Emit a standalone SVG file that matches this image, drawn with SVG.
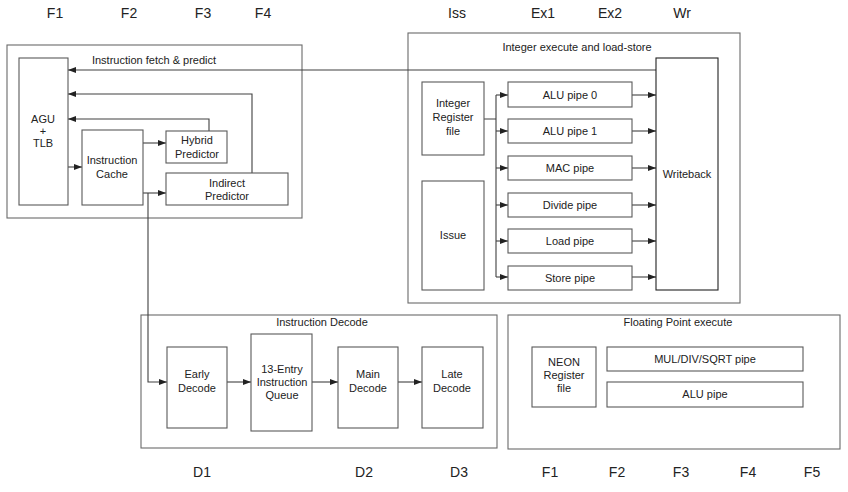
<svg xmlns="http://www.w3.org/2000/svg" width="848" height="492" viewBox="0 0 848 492">
<defs>
<style>
.bg{fill:#ffffff}
.box{fill:#ffffff;stroke:#5a5a5a;stroke-width:1.1}
.grp{fill:none;stroke:#6a6a6a;stroke-width:1.1}
.t{font-family:"Liberation Sans",Arial,sans-serif;font-size:11px;fill:#222;text-anchor:middle}
.st{font-family:"Liberation Sans",Arial,sans-serif;font-size:14px;fill:#222;text-anchor:middle}
.c{fill:none;stroke:#404040;stroke-width:1.1}
</style>
<marker id="ah" viewBox="0 0 8 6" refX="8" refY="3" markerWidth="8" markerHeight="6" markerUnits="userSpaceOnUse" orient="auto">
<path d="M0,0 L8,3 L0,6 Z" fill="#222"/>
</marker>
</defs>
<rect class="bg" x="0" y="0" width="848" height="492"/>

<g id="stage-labels">
<text class="st" x="55" y="18">F1</text>
<text class="st" x="129" y="18">F2</text>
<text class="st" x="203" y="18">F3</text>
<text class="st" x="263" y="18">F4</text>
<text class="st" x="457" y="18">Iss</text>
<text class="st" x="543" y="18">Ex1</text>
<text class="st" x="610" y="18">Ex2</text>
<text class="st" x="682" y="18">Wr</text>
<text class="st" x="202" y="477">D1</text>
<text class="st" x="364" y="477">D2</text>
<text class="st" x="459" y="477">D3</text>
<text class="st" x="550" y="477">F1</text>
<text class="st" x="617" y="477">F2</text>
<text class="st" x="681" y="477">F3</text>
<text class="st" x="748" y="477">F4</text>
<text class="st" x="812" y="477">F5</text>
</g>

<g id="fetch-group">
<rect class="grp" x="7" y="45" width="295" height="173"/>
<text class="t" x="154" y="64">Instruction fetch &amp; predict</text>
</g>
<g id="integer-group">
<rect class="grp" x="408" y="33" width="332" height="270"/>
<text class="t" x="577" y="51">Integer execute and load-store</text>
</g>
<g id="decode-group">
<rect class="grp" x="141" y="315" width="356" height="133"/>
<text class="t" x="322" y="326">Instruction Decode</text>
</g>
<g id="fp-group">
<rect class="grp" x="508" y="315" width="332" height="134"/>
<text class="t" x="678" y="326">Floating Point execute</text>
</g>

<g id="connectors">
<path class="c" d="M656,70 H68" marker-end="url(#ah)"/>
<path class="c" d="M252,173 V94 H68" marker-end="url(#ah)"/>
<path class="c" d="M209,131 V119 H68" marker-end="url(#ah)"/>
<path class="c" d="M68,167 H82" marker-end="url(#ah)"/>
<path class="c" d="M143,143 H166" marker-end="url(#ah)"/>
<path class="c" d="M143,193 H166" marker-end="url(#ah)"/>
<path class="c" d="M148,193 V382 H167" marker-end="url(#ah)"/>
<path class="c" d="M227,382 H251" marker-end="url(#ah)"/>
<path class="c" d="M312,382 H338" marker-end="url(#ah)"/>
<path class="c" d="M398,382 H422" marker-end="url(#ah)"/>
<path class="c" d="M484,119 H496 M496,95 V277"/>
<path class="c" d="M496,95 H508" marker-end="url(#ah)"/>
<path class="c" d="M496,131 H508" marker-end="url(#ah)"/>
<path class="c" d="M496,168 H508" marker-end="url(#ah)"/>
<path class="c" d="M496,205 H508" marker-end="url(#ah)"/>
<path class="c" d="M496,241 H508" marker-end="url(#ah)"/>
<path class="c" d="M496,277 H508" marker-end="url(#ah)"/>
<path class="c" d="M632,95 H656" marker-end="url(#ah)"/>
<path class="c" d="M632,131 H656" marker-end="url(#ah)"/>
<path class="c" d="M632,168 H656" marker-end="url(#ah)"/>
<path class="c" d="M632,205 H656" marker-end="url(#ah)"/>
<path class="c" d="M632,241 H656" marker-end="url(#ah)"/>
<path class="c" d="M632,277 H656" marker-end="url(#ah)"/>
</g>

<g id="agu-tlb">
<rect class="box" x="19" y="58" width="49" height="147"/>
<text class="t" x="43" y="123">AGU</text>
<text class="t" x="43" y="135">+</text>
<text class="t" x="43" y="147">TLB</text>
</g>
<g id="instruction-cache">
<rect class="box" x="82" y="130" width="61" height="75"/>
<text class="t" x="112" y="164">Instruction</text>
<text class="t" x="112" y="178">Cache</text>
</g>
<g id="hybrid-predictor">
<rect class="box" x="166" y="131" width="61" height="32"/>
<text class="t" x="197" y="144">Hybrid</text>
<text class="t" x="197" y="158">Predictor</text>
</g>
<g id="indirect-predictor">
<rect class="box" x="166" y="173" width="122" height="32"/>
<text class="t" x="227" y="187">Indirect</text>
<text class="t" x="227" y="200">Predictor</text>
</g>

<g id="integer-register-file">
<rect class="box" x="422" y="82" width="62" height="73"/>
<text class="t" x="453" y="107">Integer</text>
<text class="t" x="453" y="121">Register</text>
<text class="t" x="453" y="135">file</text>
</g>
<g id="issue">
<rect class="box" x="422" y="181" width="62" height="109"/>
<text class="t" x="453" y="239">Issue</text>
</g>
<g id="alu-pipe-0">
<rect class="box" x="508" y="82" width="124" height="25"/>
<text class="t" x="570" y="99">ALU pipe 0</text>
</g>
<g id="alu-pipe-1">
<rect class="box" x="508" y="119" width="124" height="24"/>
<text class="t" x="570" y="135">ALU pipe 1</text>
</g>
<g id="mac-pipe">
<rect class="box" x="508" y="156" width="124" height="24"/>
<text class="t" x="570" y="172">MAC pipe</text>
</g>
<g id="divide-pipe">
<rect class="box" x="508" y="193" width="124" height="24"/>
<text class="t" x="570" y="209">Divide pipe</text>
</g>
<g id="load-pipe">
<rect class="box" x="508" y="229" width="124" height="24"/>
<text class="t" x="570" y="245">Load pipe</text>
</g>
<g id="store-pipe">
<rect class="box" x="508" y="266" width="124" height="24"/>
<text class="t" x="570" y="282">Store pipe</text>
</g>
<g id="writeback">
<rect class="box" x="656" y="58" width="62" height="232" style="stroke:#222"/>
<text class="t" x="687" y="178">Writeback</text>
</g>

<g id="early-decode">
<rect class="box" x="167" y="347" width="60" height="81"/>
<text class="t" x="197" y="378">Early</text>
<text class="t" x="197" y="392">Decode</text>
</g>
<g id="instruction-queue">
<rect class="box" x="251" y="334" width="61" height="97"/>
<text class="t" x="282" y="373">13-Entry</text>
<text class="t" x="282" y="386">Instruction</text>
<text class="t" x="282" y="399">Queue</text>
</g>
<g id="main-decode">
<rect class="box" x="338" y="347" width="60" height="81"/>
<text class="t" x="368" y="378">Main</text>
<text class="t" x="368" y="392">Decode</text>
</g>
<g id="late-decode">
<rect class="box" x="422" y="347" width="61" height="81"/>
<text class="t" x="452" y="378">Late</text>
<text class="t" x="452" y="392">Decode</text>
</g>

<g id="neon-register-file">
<rect class="box" x="532" y="347" width="64" height="60"/>
<text class="t" x="564" y="366">NEON</text>
<text class="t" x="564" y="379">Register</text>
<text class="t" x="564" y="392">file</text>
</g>
<g id="mul-div-sqrt-pipe">
<rect class="box" x="607" y="347" width="196" height="24"/>
<text class="t" x="705" y="363">MUL/DIV/SQRT pipe</text>
</g>
<g id="fp-alu-pipe">
<rect class="box" x="607" y="382" width="196" height="25"/>
<text class="t" x="705" y="398">ALU pipe</text>
</g>
</svg>
